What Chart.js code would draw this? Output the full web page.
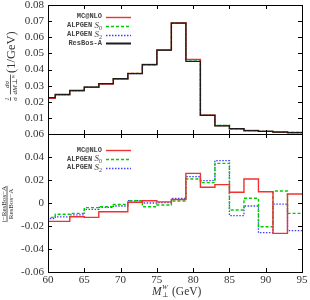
<!DOCTYPE html>
<html>
<head>
<meta charset="utf-8">
<script src="https://cdn.jsdelivr.net/npm/chart.js@4/dist/chart.umd.min.js"></script>
<style>
  html, body { margin: 0; padding: 0; background: #fff; }
  #wrap { position: relative; width: 310px; height: 300px; }
  #top-chart { position: absolute; left: 0; top: 0; }
  #bottom-chart { position: absolute; left: 0; top: 126px; }
</style>
</head>
<body>
<div id="wrap">
  <canvas id="bottom-chart" width="310" height="174"></canvas>
  <canvas id="top-chart" width="310" height="140"></canvas>
</div>
<script>
// bin edges (GeV), 2 GeV bins
const binEdges = [59, 61, 63, 65, 67, 69, 71, 73, 75, 77, 79, 81, 83, 85, 87, 89, 91, 93, 95];
const xTicks = [60, 65, 70, 75, 80, 85, 90, 95];

// upper panel: 1/sigma dsigma/dM (1/GeV)
const topResbos = [0.0225, 0.0246, 0.0271, 0.0291, 0.0312, 0.0343, 0.0375, 0.0430, 0.0520, 0.0687, 0.0451, 0.0115, 0.0051, 0.0033, 0.0021, 0.0016, 0.0012, 0.0009];
const topMcnlo  = [0.0222, 0.0243, 0.0268, 0.0289, 0.0310, 0.0341, 0.0376, 0.0431, 0.0521, 0.0689, 0.0463, 0.0117, 0.0052, 0.0033, 0.0022, 0.0016, 0.0012, 0.0009];
const topAlpS0  = [0.0222, 0.0244, 0.0269, 0.0290, 0.0311, 0.0343, 0.0376, 0.0429, 0.0519, 0.0688, 0.0460, 0.0117, 0.0053, 0.0033, 0.0021, 0.0016, 0.0012, 0.0009];
const topAlpS2  = [0.0222, 0.0243, 0.0268, 0.0290, 0.0311, 0.0342, 0.0375, 0.0430, 0.0520, 0.0689, 0.0461, 0.0117, 0.0053, 0.0033, 0.0021, 0.0016, 0.0012, 0.0009];

// lower panel: (i - ResBos-A) / ResBos-A
const ratioMcnlo = [-0.016, -0.016, -0.012, -0.0125, -0.0076, -0.0076, 0.0006, 0.002, 0.001, 0.003, 0.0258, 0.0137, 0.016, 0.0093, 0.0209, 0.0098, -0.0264, 0.0078];
const ratioAlpS0 = [-0.0125, -0.0098, -0.009, -0.004, -0.0032, -0.0012, 0.002, -0.0032, -0.0017, 0.0017, 0.0209, 0.0177, 0.0345, -0.0061, 0.0041, -0.0206, 0.0104, -0.009];
const ratioAlpS2 = [-0.0135, -0.012, -0.0104, -0.0055, -0.0038, -0.0026, 0.002, 0, 0.0003, 0.0041, 0.0229, 0.0194, 0.0368, -0.011, -0.0026, -0.0258, -0.0009, -0.024];

const serif = '"Liberation Serif", "DejaVu Serif", serif';
const mono = '"Liberation Mono", "DejaVu Sans Mono", monospace';

const styles = {
  mcnlo: { color: '#f23030', dash: [], width: 1.4 },
  s0: { color: '#00cc00', dash: [3, 2], width: 1.4 },
  s2: { color: '#4040ff', dash: [1.5, 1.5], width: 1.3 },
  resbos: { color: '#1c1c1c', dash: [], width: 1.2 }
};

// histogram points: value of bin i starts at its left edge
function stepPoints(vals) {
  const pts = vals.map((v, i) => ({ x: binEdges[i], y: v }));
  pts.push({ x: binEdges[vals.length], y: vals[vals.length - 1] });
  return pts;
}

function makeDataset(vals, st) {
  return {
    data: stepPoints(vals),
    stepped: true,
    borderColor: st.color,
    borderDash: st.dash,
    borderWidth: st.width,
    pointRadius: 0,
    fill: false
  };
}

function fmtTick(v) {
  if (Math.abs(v) < 1e-9) return '0';
  return v.toFixed(2);
}

// frame with inward ticks on all four sides
function drawFrame(chart, yStep) {
  const { ctx, chartArea: a, scales } = chart;
  ctx.save();
  ctx.strokeStyle = '#000';
  ctx.lineWidth = 1;
  ctx.beginPath();
  xTicks.forEach(t => {
    const px = Math.round(scales.x.getPixelForValue(t)) + 0.5;
    ctx.moveTo(px, a.bottom); ctx.lineTo(px, a.bottom - 4);
    ctx.moveTo(px, a.top); ctx.lineTo(px, a.top + 4);
  });
  const ys = scales.y;
  for (let v = ys.min; v <= ys.max + 1e-9; v += yStep) {
    const py = Math.round(ys.getPixelForValue(v)) + 0.5;
    ctx.moveTo(a.left, py); ctx.lineTo(a.left + 4, py);
    ctx.moveTo(a.right, py); ctx.lineTo(a.right - 4, py);
  }
  ctx.stroke();
  ctx.strokeRect(Math.round(a.left) + 0.5, Math.round(a.top) + 0.5,
    Math.round(a.right - a.left), Math.round(a.bottom - a.top));
  ctx.restore();
}

// legend entry: mono text, optional italic S with subscript
function drawLegend(ctx, rows, y0, dy) {
  const right = 102;
  rows.forEach((r, i) => {
    const y = y0 + i * dy;
    ctx.save();
    ctx.textBaseline = 'middle';
    ctx.fillStyle = '#444';
    ctx.font = 'bold 7px ' + mono;
    const wMain = ctx.measureText(r.text).width;
    let wS = 0, wSub = 0;
    if (r.sub) {
      ctx.font = 'italic 9px ' + serif;
      wS = ctx.measureText(' S').width;
      ctx.font = '6px ' + serif;
      wSub = ctx.measureText(r.sub).width;
    }
    let x = right - (wMain + wS + wSub);
    ctx.font = 'bold 7px ' + mono;
    ctx.fillText(r.text, x, y);
    x += wMain;
    if (r.sub) {
      ctx.font = 'italic 9px ' + serif;
      ctx.fillText(' S', x, y);
      x += wS;
      ctx.font = '6px ' + serif;
      ctx.fillText(r.sub, x, y + 3);
    }
    ctx.strokeStyle = r.st.color;
    ctx.lineWidth = r.legendWidth || r.st.width;
    ctx.setLineDash(r.st.dash);
    ctx.beginPath();
    ctx.moveTo(106, Math.round(y) + 0.5);
    ctx.lineTo(131, Math.round(y) + 0.5);
    ctx.stroke();
    ctx.restore();
  });
}

// centred fraction in a rotated frame
function drawFrac(ctx, cx, barY, num, den, font) {
  ctx.font = font;
  const wn = ctx.measureText(num).width;
  const wd = ctx.measureText(den).width;
  const w = Math.max(wn, wd);
  ctx.textBaseline = 'alphabetic';
  ctx.textAlign = 'center';
  ctx.fillText(num, cx, barY - 1.5);
  ctx.fillText(den, cx, barY + 6);
  ctx.fillRect(cx - w / 2, barY - 0.4, w, 0.8);
}

const topPlugin = {
  id: 'topDecor',
  afterDraw(chart) {
    const ctx = chart.ctx;
    drawFrame(chart, 0.01);
    drawLegend(ctx, [
      { text: 'MC@NLO', st: styles.mcnlo },
      { text: 'ALPGEN', sub: '0', st: styles.s0 },
      { text: 'ALPGEN', sub: '2', st: styles.s2 },
      { text: 'ResBos-A', st: styles.resbos, legendWidth: 2 }
    ], 16.7, 8.9);
    // y title
    ctx.save();
    ctx.fillStyle = '#333';
    ctx.translate(15, 70);
    ctx.rotate(-Math.PI / 2);
    drawFrac(ctx, -29, -4.5, '1', 'σ', 'italic 7px ' + serif);
    drawFrac(ctx, -14.5, -4.5, 'dσ', 'dM⊥ᵂ', 'italic 7px ' + serif);
    ctx.font = '12.5px ' + serif;
    ctx.textAlign = 'left';
    ctx.textBaseline = 'alphabetic';
    ctx.fillText('(1/GeV)', -3, 0);
    ctx.restore();
  }
};

const bottomPlugin = {
  id: 'bottomDecor',
  afterDraw(chart) {
    const ctx = chart.ctx;
    drawFrame(chart, 0.02);
    drawLegend(ctx, [
      { text: 'MC@NLO', st: styles.mcnlo },
      { text: 'ALPGEN', sub: '0', st: styles.s0 },
      { text: 'ALPGEN', sub: '2', st: styles.s2 }
    ], 24, 8.8);
    // y title
    ctx.save();
    ctx.fillStyle = '#333';
    ctx.translate(7, 78);
    ctx.rotate(-Math.PI / 2);
    drawFrac(ctx, 0, 0, 'i−ResBos−A', 'ResBos−A', '7px ' + serif);
    ctx.restore();
    // x title
    ctx.save();
    ctx.fillStyle = '#333';
    ctx.textBaseline = 'alphabetic';
    ctx.textAlign = 'left';
    let x = 152, y = 169;
    ctx.font = 'italic 11.5px ' + serif;
    ctx.fillText('M', x, y);
    x += ctx.measureText('M').width + 0.5;
    ctx.font = '7px ' + serif;
    ctx.fillText('⊥', x, y + 2);
    ctx.font = 'italic 7px ' + serif;
    ctx.fillText('W', x, y - 6);
    ctx.font = '11.5px ' + serif;
    ctx.fillText('(GeV)', 172, y);
    ctx.restore();
  }
};

function zeroPad(s) {
  s.paddingTop = 0; s.paddingBottom = 0; s.paddingLeft = 0; s.paddingRight = 0;
}

const tickFont = { family: serif, size: 11 };

const topChart = new Chart(document.getElementById('top-chart'), {
  type: 'line',
  data: {
    datasets: [
      makeDataset(topResbos, styles.resbos),
      makeDataset(topMcnlo, styles.mcnlo),
      makeDataset(topAlpS0, styles.s0),
      makeDataset(topAlpS2, styles.s2)
    ]
  },
  options: {
    responsive: false,
    animation: false,
    layout: { padding: { top: 5, right: 8, bottom: 6, left: 0 } },
    plugins: { legend: { display: false }, tooltip: { enabled: false } },
    scales: {
      x: { type: 'linear', min: 60, max: 95, display: false },
      y: {
        min: 0, max: 0.08,
        grid: { display: false, drawTicks: false }, border: { display: false },
        ticks: {
          stepSize: 0.01, color: '#333', font: tickFont, padding: 4, autoSkip: false,
          callback: v => (Math.abs(v) < 1e-9 ? '' : v.toFixed(2))
        },
        afterFit(s) { s.width = 48; zeroPad(s); }
      }
    }
  },
  plugins: [topPlugin]
});

const bottomChart = new Chart(document.getElementById('bottom-chart'), {
  type: 'line',
  data: {
    datasets: [
      makeDataset(ratioMcnlo, styles.mcnlo),
      makeDataset(ratioAlpS0, styles.s0),
      makeDataset(ratioAlpS2, styles.s2)
    ]
  },
  options: {
    responsive: false,
    animation: false,
    layout: { padding: { top: 8, right: 8, bottom: 0, left: 0 } },
    plugins: { legend: { display: false }, tooltip: { enabled: false } },
    scales: {
      x: {
        type: 'linear', min: 60, max: 95,
        grid: { display: false, drawTicks: false }, border: { display: false },
        ticks: { stepSize: 5, color: '#333', font: tickFont, padding: 2, maxRotation: 0, autoSkip: false },
        afterFit(s) { s.height = 28; zeroPad(s); }
      },
      y: {
        min: -0.06, max: 0.06,
        grid: { display: false, drawTicks: false }, border: { display: false },
        ticks: { stepSize: 0.02, color: '#333', font: tickFont, padding: 4, autoSkip: false, callback: v => fmtTick(v) },
        afterFit(s) { s.width = 48; zeroPad(s); }
      }
    }
  },
  plugins: [bottomPlugin]
});
</script>
</body>
</html>
